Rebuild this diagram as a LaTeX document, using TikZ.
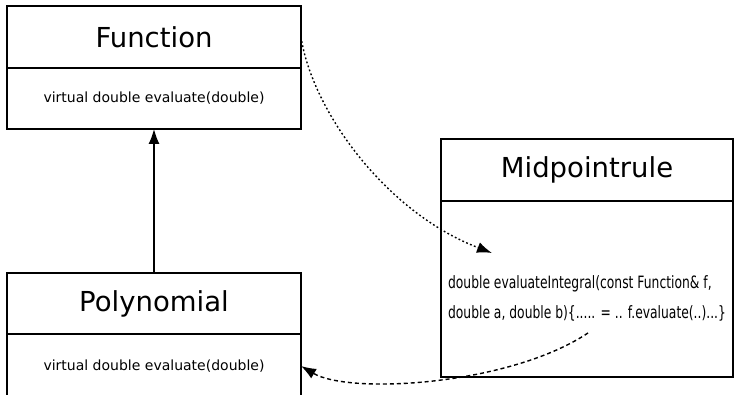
\documentclass[tikz,border=0pt]{standalone}
\usepackage{fontspec}
\setmainfont{DejaVu Sans}
\newfontfamily\narrowfont{DejaVu Sans}[FakeStretch=0.725]
\usetikzlibrary{arrows.meta,positioning}

\tikzset{
  classhead/.style={draw,line width=1.4pt,inner sep=0pt,outer sep=0pt,minimum width=294pt,minimum height=62pt,font=\fontsize{27.5}{30}\selectfont},
  classbody/.style={draw,line width=1.4pt,inner sep=0pt,outer sep=0pt,minimum width=294pt,minimum height=61pt,font=\fontsize{14}{17}\selectfont},
  calltip/.style={-{Latex[length=15pt,width=11pt]},line width=1.4pt}
}

\begin{document}
\begin{tikzpicture}[x=1pt,y=-1pt]
\useasboundingbox (0,0) rectangle (734,395);
% base class
\node[classhead,anchor=north west] (funchead) at (7,6) {Function};
\node[classbody,below=0pt of funchead] (funcbody) {virtual double evaluate(double)};
% derived class
\node[classhead,anchor=north west,minimum height=61pt] (polyhead) at (7,273) {Polynomial};
\node[classbody,below=0pt of polyhead,minimum height=64pt] (polybody) {virtual double evaluate(double)};
% integrator
\node[classhead,anchor=north west,minimum width=292pt] (midhead) at (441,139) {Midpointrule};
\node[classbody,below=0pt of midhead,minimum width=292pt,minimum height=176pt] (midbody) {};
\node[align=left,inner sep=0pt,font=\narrowfont\fontsize{17}{30}\selectfont] (midtext) at ([yshift=-9pt]midbody.center)
  {double evaluateIntegral(const Function\& f,\\double a, double b)\{..... = .. f.evaluate(..)...\}};
\coordinate (integralin) at (492,253);
\coordinate (callout) at (588,333);
% connectors
\draw[calltip] (polyhead.north) -- (funcbody.south);
\draw[calltip,dash pattern=on 1.8pt off 2.4pt] (funchead.east) .. controls (312,110) and (385,212) .. (integralin);
\draw[calltip,dash pattern=on 4pt off 3pt] (callout) .. controls (510,385) and (350,395) .. (polybody.east);
\end{tikzpicture}
\end{document}
